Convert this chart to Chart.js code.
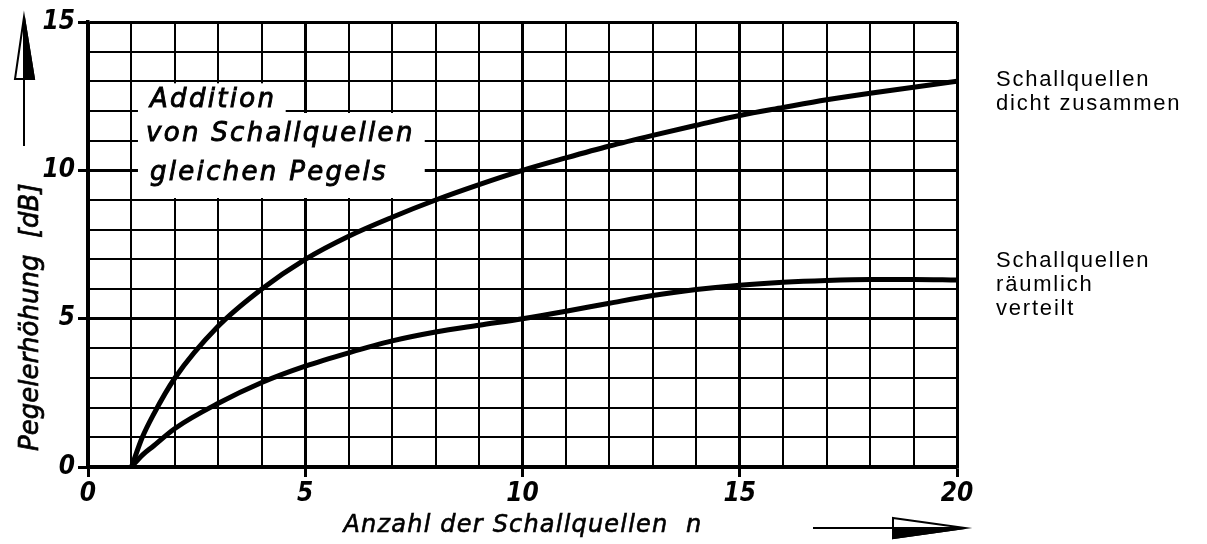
<!DOCTYPE html>
<html><head><meta charset="utf-8">
<script src="https://cdn.jsdelivr.net/npm/chart.js@4.4.1/dist/chart.umd.min.js"></script>
<style>html,body{margin:0;padding:0;background:#fff;overflow:hidden;}</style>
</head><body>
<canvas id="c" width="1207" height="544"></canvas>
<script>
// ---- data ----
const nValues       = [1, 1.25, 1.5, 2, 3, 4, 5, 6, 7, 8, 9, 10, 11, 12, 13, 14, 15, 16, 17, 18, 19, 20];
const dichtValues   = [0, 1.0, 1.75, 3.0, 4.75, 6.0, 7.0, 7.78, 8.42, 9.0, 9.52, 10.0, 10.42, 10.82, 11.18, 11.52, 11.85, 12.12, 12.38, 12.6, 12.8, 13.0];
const verteiltValues= [0, 0.4, 0.7, 1.3, 2.15, 2.85, 3.4, 3.85, 4.25, 4.55, 4.78, 5.0, 5.25, 5.52, 5.78, 5.98, 6.13, 6.23, 6.29, 6.32, 6.32, 6.3];
const xTickLabels = [0, 5, 10, 15, 20];
const yTickLabels = [0, 5, 10, 15];
const xTitle = 'Anzahl der Schallquellen  n';
const yTitle = 'Pegelerhöhung  [dB]';
const boxLines = ['Addition', 'von Schallquellen', 'gleichen Pegels'];
const labelDicht = ['Schallquellen', 'dicht zusammen'];
const labelVerteilt = ['Schallquellen', 'räumlich', 'verteilt'];

const toXY = (ys) => nValues.map((n, i) => ({x: n, y: ys[i]}));

function heavyText(ctx, t, x, y, w) {
  ctx.fillText(t, x, y);
  ctx.lineWidth = w;
  ctx.strokeText(t, x, y);
}

const decor = {
  id: 'decor',
  beforeDatasetsDraw(chart) {
    const ctx = chart.ctx, sx = chart.scales.x, sy = chart.scales.y;
    const px = v => sx.getPixelForValue(v), py = v => sy.getPixelForValue(v);
    ctx.save();
    ctx.fillStyle = '#fff';
    // white label box (stepped)
    ctx.fillRect(px(1) + 1.5, py(13) + 2, px(5) - 2 - (px(1) + 1.5), py(12) - 2 - (py(13) + 2));
    ctx.fillRect(px(1.15), py(12) + 2, px(7.75) - px(1.15), py(9) - 2 - (py(12) + 2));
    ctx.fillRect(px(1.15), py(12) - 2.5, px(4.55) - px(1.15), 5);
    ctx.fillStyle = '#000';
    ctx.strokeStyle = '#000';
    ctx.font = 'italic 26px "DejaVu Sans"';
    ctx.letterSpacing = '2.3px';
    ctx.textBaseline = 'alphabetic';
    ctx.textAlign = 'left';
    heavyText(ctx, boxLines[0], 150, 107, 0.9);
    heavyText(ctx, boxLines[1], 146, 141, 0.9);
    heavyText(ctx, boxLines[2], 150, 180, 0.9);
    ctx.restore();
  },
  afterDraw(chart) {
    const ctx = chart.ctx;
    ctx.save();
    ctx.fillStyle = '#000';
    ctx.strokeStyle = '#000';
    // x title
    ctx.font = 'italic 24px "DejaVu Sans"';
    ctx.letterSpacing = '1.2px';
    ctx.textAlign = 'center';
    ctx.textBaseline = 'alphabetic';
    heavyText(ctx, xTitle, 523, 532, 0.6);
    // y title
    ctx.save();
    ctx.translate(38, 451);
    ctx.rotate(-Math.PI / 2);
    ctx.textAlign = 'left';
    ctx.font = 'italic 26px "DejaVu Sans"';
    ctx.letterSpacing = '0px';
    heavyText(ctx, yTitle, 0, 0, 0.7);
    ctx.restore();
    // right-hand labels
    ctx.font = '22px "Liberation Sans"';
    ctx.letterSpacing = '1.8px';
    ctx.textAlign = 'left';
    labelDicht.forEach((t, i) => ctx.fillText(t, 996, 86 + i * 24));
    labelVerteilt.forEach((t, i) => ctx.fillText(t, 996, 267 + i * 24));
    ctx.letterSpacing = '0px';
    // y arrow
    ctx.lineWidth = 2;
    ctx.beginPath(); ctx.moveTo(24, 146); ctx.lineTo(24, 79); ctx.stroke();
    ctx.beginPath(); ctx.moveTo(24, 17); ctx.lineTo(15, 79); ctx.lineTo(34, 79); ctx.closePath();
    ctx.fillStyle = '#fff'; ctx.fill(); ctx.stroke();
    ctx.fillStyle = '#000';
    ctx.beginPath(); ctx.moveTo(24, 17); ctx.lineTo(24, 79); ctx.lineTo(34, 79); ctx.closePath(); ctx.fill(); ctx.stroke();
    // x arrow
    ctx.beginPath(); ctx.moveTo(813, 528); ctx.lineTo(893, 528); ctx.stroke();
    ctx.beginPath(); ctx.moveTo(893, 518); ctx.lineTo(965, 528); ctx.lineTo(893, 538); ctx.closePath();
    ctx.fillStyle = '#fff'; ctx.fill(); ctx.stroke();
    ctx.fillStyle = '#000';
    ctx.beginPath(); ctx.moveTo(893, 528); ctx.lineTo(965, 528); ctx.lineTo(893, 538); ctx.closePath(); ctx.fill(); ctx.stroke();
    ctx.restore();
  }
};

const gridOpts = {
  color: '#000',
  lineWidth: (c) => (c.tick && c.tick.value % 5 === 0) ? 3 : 2,
  tickColor: (c) => (c.tick && c.tick.value % 5 === 0) ? '#000' : 'rgba(0,0,0,0)',
  tickWidth: 3,
  tickLength: 10,
  drawTicks: true
};
const tickFont = {family: '"DejaVu Sans Condensed", "DejaVu Sans"', size: 26, style: 'italic', weight: 'bold'};

new Chart(document.getElementById('c'), {
  type: 'line',
  data: {
    datasets: [
      {label: 'Schallquellen dicht zusammen', data: toXY(dichtValues), borderColor: '#000', borderWidth: 5, pointRadius: 0, fill: false, cubicInterpolationMode: 'monotone'},
      {label: 'Schallquellen räumlich verteilt', data: toXY(verteiltValues), borderColor: '#000', borderWidth: 5, pointRadius: 0, fill: false, cubicInterpolationMode: 'monotone'}
    ]
  },
  options: {
    responsive: false,
    animation: false,
    devicePixelRatio: 1,
    layout: {padding: {left: 0, top: 22, right: 250, bottom: 0}},
    plugins: {legend: {display: false}, tooltip: {enabled: false}, title: {display: false}},
    scales: {
      x: {
        type: 'linear', min: 0, max: 20,
        grid: gridOpts,
        border: {display: true, color: '#000', width: 3.5},
        ticks: {stepSize: 1, autoSkip: false, maxRotation: 0, padding: 2, color: '#000', font: tickFont,
          callback: (v) => xTickLabels.includes(v) ? String(v) : ''},
        afterFit: (s) => { s.height = 77; }
      },
      y: {
        type: 'linear', min: 0, max: 15,
        grid: gridOpts,
        border: {display: true, color: '#000', width: 3.5},
        ticks: {stepSize: 1, autoSkip: false, padding: 3, color: '#000', font: tickFont,
          callback: (v) => yTickLabels.includes(v) ? String(v) : ''},
        afterFit: (s) => { s.width = 88; }
      }
    }
  },
  plugins: [decor]
});
</script>
</body></html>
